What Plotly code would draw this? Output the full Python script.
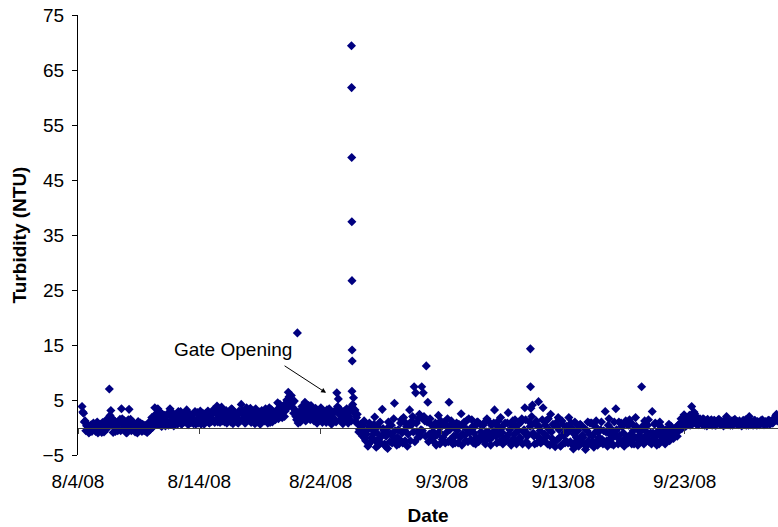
import pandas as pd
import plotly.graph_objects as go

# Readings every 3 hours starting 8/4/08 08:00 (one row per day)
turbidity = [
    3.8, 2.6, 1.2, 0.3, -0.4, -0.8, 0.5, -0.2,
    0.4, -0.7, 1.0, -0.3, 0.6, -0.9, 0.1, -0.5,
    1.4, 0.2, 7.0, 3.1, 1.6, 0.6, -0.7, 0.3,
    -0.4, 1.5, 3.4, 0.5, 1.2, -0.9, 0.2, 3.3,
    1.5, -0.3, 0.8, -0.8, 0.3, 1.1, -0.5, 0.0,
    0.6, -0.6, 0.2, -0.9, 0.9, -0.3, 1.8, 0.4,
    3.6, 1.2, 3.4, 0.5, 1.9, 2.4, 1.0, 0.3,
    2.1, 0.4, 3.4, 1.3, 2.6, 0.8, 1.7, 0.6,
    1.6, 2.9, 0.7, 2.0, 1.2, 3.2, 0.5, 2.4,
    0.9, 2.4, 1.5, 0.6, 2.7, 1.7, 3.0, 1.1,
    2.5, 1.0, 2.0, 3.0, 0.8, 2.2, 1.4, 2.8,
    1.3, 3.9, 1.9, 0.9, 3.7, 2.4, 1.0, 3.1,
    1.6, 2.8, 1.0, 3.3, 2.0, 1.2, 2.5, 0.8,
    2.6, 4.2, 1.4, 2.2, 0.9, 3.0, 1.8, 3.5,
    1.8, 3.0, 0.7, 2.3, 1.4, 2.8, 1.0, 2.0,
    2.0, 3.4, 1.2, 2.6, 0.9, 3.2, 1.6, 2.4,
    2.4, 4.5, 2.8, 3.6, 1.8, 4.0, 3.0, 5.0,
    6.4, 5.2, 5.8, 3.6, 4.8, 2.0, 17.2, 1.0,
    1.0, 3.8, 2.4, 4.6, 1.6, 3.0, 2.0, 4.0,
    2.2, 1.2, 3.5, 0.8, 2.6, 1.5, 3.0, 1.8,
    2.8, 0.9, 2.0, 3.4, 1.1, 2.4, 1.6, 3.0,
    6.3, 5.2, 1.4, 2.6, 0.7, 3.0, 1.8, 2.2,
    2.0, 3.6, 6.6, 5.4, 3.2, 1.8, 0.6, -0.4,
    0.6, -1.6, 1.2, -2.4, -0.5, -3.0, 0.2, -1.8,
    -1.2, 1.9, -3.6, 0.2, -2.0, -2.8, 3.3, -0.6,
    -3.4, -0.8, 1.0, -2.6, 0.4, -1.6, 4.4, -2.2,
    -1.8, -3.0, 0.8, -1.0, 1.8, -2.4, 0.2, -1.2,
    3.2, 0.4, 2.0, 7.4, 6.3, -0.8, 1.6, -1.6,
    7.4, 6.3, 1.2, 11.2, 4.6, -1.2, 0.6, -2.0,
    -2.6, 0.8, -1.4, 2.2, -3.0, 0.2, -1.8, 1.0,
    -1.0, 1.6, 4.6, -2.2, 0.6, -1.6, -2.8, 0.8,
    -2.8, 0.4, 2.5, -1.2, 1.0, -2.4, -0.4, 1.6,
    -0.6, 1.4, -2.8, 0.2, -1.8, 1.0, -2.2, -0.8,
    -1.4, 0.8, -3.0, 1.6, -0.8, -2.2, 0.4, -1.6,
    3.2, -1.6, 0.4, -2.6, 1.8, -0.9, -2.0, 0.8,
    -2.4, 2.7, -0.4, -3.2, 1.2, -1.2, 0.2, -2.6,
    0.6, -2.0, 1.6, -0.8, 3.6, -2.6, -1.2, 1.0,
    3.5, 4.1, -1.6, 0.6, -2.8, 4.7, -0.6, -2.2,
    3.6, -1.2, 1.2, -3.0, -0.4, 2.4, -2.0, 0.4,
    -3.5, 0.2, 1.8, -1.8, -3.2, 0.6, -1.0, -2.4,
    -1.0, 1.8, -2.6, -0.2, -3.9, 1.0, -1.8, -0.6,
    -2.2, 0.4, -1.4, -3.0, -4.0, -0.6, -2.4, 0.8,
    0.8, -2.6, -1.0, 1.2, -3.2, -1.8, -0.4, -2.2,
    -0.6, 2.9, -2.4, 0.4, -1.2, -3.0, -1.8, 1.0,
    3.4, -1.8, 1.0, -2.6, 0.2, -1.0, -3.0, 0.6,
    -2.8, 1.4, -1.2, 0.6, -3.0, 1.8, -2.0, -0.4,
    -0.8, 7.4, -2.2, 1.2, -1.4, 0.4, -2.6, -1.0,
    2.9, -2.0, 0.8, -3.2, -0.6, 1.0, -1.6, -2.4,
    -2.6, -0.4, -1.8, 0.6, -1.2, -0.2, -2.0, -1.0,
    -0.8, 0.4, -0.4, 1.6, 0.6, 2.3, 0.2, 1.2,
    1.0, 0.4, 3.8, 1.4, 2.5, 0.6, 1.7, 0.8,
    1.2, 0.5, 1.5, 0.8, 0.3, 1.1, 0.6, 1.4,
    0.7, 1.3, 0.4, 0.9, 1.5, 0.5, 1.0, 0.3,
    1.0, 2.0, 0.5, 0.8, 1.2, 0.4, 0.7, 1.1,
    1.1, 0.5, 0.9, 0.3, 1.3, 0.7, 0.4, 1.0,
    2.0, 0.5, 1.0, 0.6, 1.2, 0.4, 0.8, 0.5,
    0.8, 1.2, 0.5, 1.0, 0.6, 1.3, 0.7, 0.9,
    1.0, 1.8, 2.4, 1.4,
]
# Readings every 3 hours starting 8/4/08 09:30 (interleaved with the above)
turbidity_b = [
    2.8, 1.0, -0.6, 0.6, -1.0, 0.2, -0.7, 0.8,
    -0.5, 0.7, -1.0, 0.2, -0.4, 0.9, -0.8, 0.3,
    -0.2, 1.0, 2.2, 0.4, -0.9, 1.2, 0.0, -0.6,
    0.8, -0.6, 1.6, -0.2, 0.6, -1.0, 1.4, 0.4,
    -0.6, 1.0, -0.2, 0.5, -1.0, 0.2, 0.8, -0.7,
    -0.2, 0.4, -0.8, 0.3, -0.5, 0.8, 0.0, 1.3,
    2.4, 0.6, 1.6, 2.8, 0.2, 1.4, 2.2, 0.8,
    1.0, 2.8, 0.6, 1.9, 0.3, 2.2, 1.2, 2.9,
    2.2, 0.6, 1.8, 1.0, 2.6, 0.8, 1.6, 0.9,
    1.8, 0.7, 2.9, 1.2, 0.8, 2.2, 0.6, 1.9,
    0.6, 2.6, 1.3, 0.9, 2.4, 1.1, 3.2, 0.9,
    2.6, 1.0, 2.9, 1.6, 1.2, 3.0, 2.0, 0.8,
    2.4, 1.3, 3.4, 0.7, 2.6, 1.8, 0.9, 3.0,
    1.2, 3.0, 2.4, 0.8, 3.6, 1.4, 2.6, 0.9,
    2.6, 1.2, 3.4, 1.0, 2.0, 0.6, 3.1, 1.5,
    1.2, 2.6, 0.8, 3.6, 1.8, 1.0, 2.8, 1.4,
    3.2, 1.6, 4.2, 2.4, 3.4, 2.0, 4.4, 3.6,
    5.6, 4.2, 4.4, 2.6, 3.2, 1.4, 0.8, 2.6,
    3.2, 1.8, 3.6, 1.2, 2.8, 4.0, 1.4, 2.4,
    3.4, 2.0, 1.0, 2.8, 1.8, 3.6, 0.9, 2.4,
    1.6, 3.2, 1.2, 2.4, 0.6, 1.8, 3.0, 1.0,
    3.8, 2.4, 3.2, 1.0, 2.2, 1.4, 3.4, 0.8,
    3.0, 1.2, 4.2, 2.6, 1.0, 2.4, -0.8, 0.6,
    -0.8, 0.4, -2.0, -1.2, -3.4, 0.8, -2.6, -0.4,
    0.6, -2.4, -1.0, -3.2, 1.0, -1.6, -0.2, -3.0,
    -1.6, -3.8, 0.2, -1.2, -2.8, 1.6, -0.6, -3.2,
    -0.4, -2.2, 1.4, -2.8, -0.6, 0.8, -3.4, 0.4,
    -2.4, 1.2, -0.8, -2.6, 0.8, -1.8, 2.4, -0.4,
    -0.6, 2.0, -1.6, 1.0, -2.6, 1.6, -1.0, 0.2,
    -1.0, -3.2, 0.4, -0.8, 1.2, -2.2, 0.6, -2.8,
    0.4, -2.6, -0.4, 1.2, -3.0, 0.0, -1.4, -0.6,
    0.6, -1.8, -3.2, 0.2, -1.4, 1.2, -2.6, -1.0,
    -2.2, 0.2, -1.0, -3.0, 1.0, -2.6, 0.6, -1.4,
    0.4, -2.4, -0.8, -1.8, 1.0, -3.2, -1.0, 0.8,
    -0.6, -2.8, 1.2, -1.2, -0.2, -3.0, 0.6, -1.8,
    0.8, -1.2, -2.6, 0.4, -2.0, 1.4, -3.0, -0.6,
    -1.8, 1.0, -3.0, -0.4, 1.4, -1.6, -3.2, 0.2,
    2.0, -1.0, -3.0, 1.2, -1.6, 0.2, -2.8, 1.4,
    -2.4, 0.4, -1.6, 1.6, -3.2, -0.8, 0.6, -2.6,
    0.8, -2.2, -0.4, -3.4, 1.2, -1.4, -2.8, 0.2,
    -2.8, -0.4, 0.8, -3.2, -1.2, -2.6, 0.4, -3.4,
    0.6, -2.8, -1.8, -0.2, -3.4, 1.0, -1.2, -3.0,
    -1.6, -3.6, 0.2, -2.4, -0.8, -2.8, 1.0, -3.0,
    -2.6, -0.8, -3.4, 1.6, -2.0, -0.4, -3.2, -1.2,
    -0.4, -3.0, -1.4, 0.8, -2.4, -3.4, 1.2, -1.8,
    0.4, -2.2, -3.0, -0.6, -1.8, 0.2, -3.2, -1.4,
    -2.4, 0.2, -3.0, -0.6, -2.0, 1.4, -1.2, -3.0,
    -1.0, 0.6, -2.6, -1.4, -3.0, 0.2, -2.2, -0.8,
    -3.0, -1.4, -0.6, -2.4, 0.2, -1.8, -1.4, 0.0,
    -1.6, -0.6, 0.8, -0.2, 1.2, 1.8, 1.0, 0.5,
    2.2, 1.6, 0.6, 2.8, 0.9, 1.4, 0.5, 1.6,
    0.9, 1.6, 0.4, 1.2, 1.5, 0.6, 1.2, 0.4,
    1.2, 0.4, 1.0, 1.4, 0.6, 1.1, 0.5, 1.3,
    0.5, 1.4, 1.1, 0.4, 0.9, 1.3, 1.5, 0.6,
    0.6, 1.2, 0.5, 1.0, 0.7, 1.4, 1.1, 0.4,
    1.2, 1.0, 0.4, 1.3, 0.6, 1.1, 0.5, 1.2,
    1.4, 0.5, 1.1, 0.7, 1.3, 0.6, 1.2, 0.8,
    1.5, 2.2, 1.2, 1.8,
]
start_a = "2008-08-04 08:00"
start_b = "2008-08-04 09:30"
step = "3h"

# Event readings (storm / gate spikes)
spike_times = [
    "2008-08-26 13:00", "2008-08-26 13:15", "2008-08-26 13:30",
    "2008-08-26 13:45", "2008-08-26 14:00", "2008-08-26 14:15",
    "2008-08-26 14:30", "2008-09-10 07:00", "2008-09-10 07:15",
]
spike_vals = [69.4, 61.8, 49.1, 37.4, 26.7, 14.1, 12.1, 14.3, 7.4]

tick_dates = ["2008-08-04", "2008-08-14", "2008-08-24", "2008-09-03",
              "2008-09-13", "2008-09-23"]
tick_labels = ["8/4/08", "8/14/08", "8/24/08", "9/3/08", "9/13/08", "9/23/08"]
y_ticks = [-5, 5, 15, 25, 35, 45, 55, 65, 75]

times_a = pd.date_range(start_a, periods=len(turbidity), freq=step)
times_b = pd.date_range(start_b, periods=len(turbidity_b), freq=step)
all_x = list(times_a) + list(times_b) + list(pd.to_datetime(spike_times))
all_y = turbidity + turbidity_b + spike_vals

FONT = "Liberation Sans, Arial, sans-serif"
NAVY = "#000080"

fig = go.Figure()
fig.add_trace(go.Scatter(
    x=all_x, y=all_y, mode="markers",
    marker=dict(symbol="diamond", size=7, color=NAVY, line=dict(width=0)),
    showlegend=False, hoverinfo="x+y",
))
# dummy trace so the zero-crossing axis renders
fig.add_trace(go.Scatter(x=[times_a[0]], y=[None], xaxis="x2", yaxis="y",
                         mode="markers", showlegend=False, hoverinfo="skip"))

x_end = pd.Timestamp("2008-08-04") + pd.Timedelta(days=57.7)
x_range = ["2008-08-04 00:00", x_end.strftime("%Y-%m-%d %H:%M")]

fig.update_layout(
    width=778, height=527,
    margin=dict(l=78, r=0, t=15, b=72),
    paper_bgcolor="white", plot_bgcolor="white",
    font=dict(family=FONT, size=19, color="black"),
    xaxis=dict(
        range=x_range, tickvals=tick_dates, ticktext=tick_labels,
        showgrid=False, zeroline=False, showline=False, ticks="",
        automargin=False, ticklabelstandoff=13,
        tickfont=dict(size=19),
        title=dict(text="<b>Date</b>", font=dict(size=19), standoff=17),
    ),
    xaxis2=dict(
        range=x_range, overlaying="x", matches="x", anchor="free",
        position=5 / 80, tickvals=tick_dates, showticklabels=False,
        showgrid=False, zeroline=False, showline=True, automargin=False,
        linecolor="#404040", linewidth=1, ticks="outside", ticklen=5,
        tickcolor="#404040",
    ),
    yaxis=dict(
        range=[-5, 75], tickvals=y_ticks, showgrid=False, zeroline=False,
        showline=True, linecolor="black", linewidth=1, ticks="outside",
        ticklen=5, tickcolor="black", automargin=False, ticklabelstandoff=4,
        tickfont=dict(size=19),
        title=dict(text="<b>Turbidity (NTU)</b>", font=dict(size=19),
                   standoff=10),
    ),
    annotations=[
        dict(x="2008-08-24 10:48", y=6.3, xref="x", yref="y", text="",
             showarrow=True, arrowhead=2, arrowsize=1, arrowwidth=1,
             arrowcolor="black", ax=-43, ay=-28, standoff=0),
        dict(x="2008-08-16 18:40", y=14.1, xref="x", yref="y",
             text="Gate Opening", showarrow=False,
             font=dict(size=19, family=FONT)),
    ],
)

fig.write_html("out.html",
               config={"displayModeBar": False},
               post_script="document.body.style.margin='0';")
